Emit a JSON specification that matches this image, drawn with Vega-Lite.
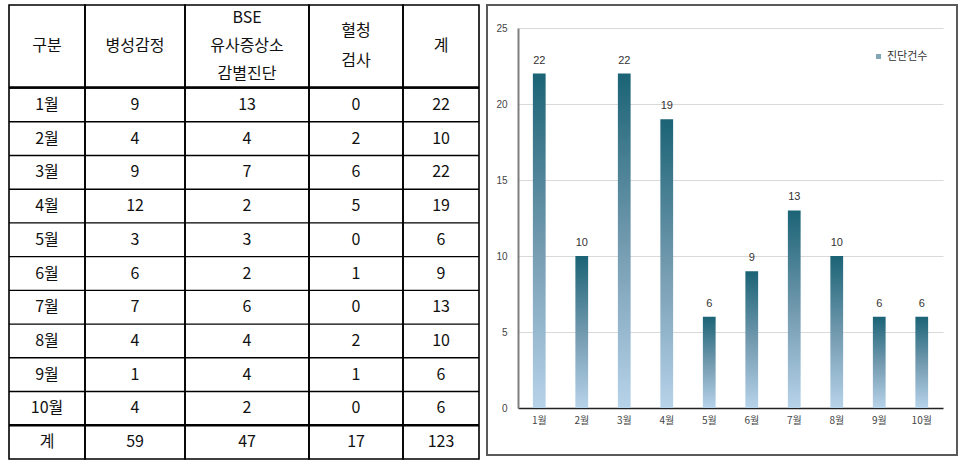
{
  "$schema": "https://vega.github.io/schema/vega-lite/v6.json",
  "padding": {"left": 7, "top": 4, "right": 0, "bottom": 0},
  "background": "white",
  "datasets": {
    "rows": [
      {"month": "1월", "a": 9, "b": 13, "c": 0, "total": 22},
      {"month": "2월", "a": 4, "b": 4, "c": 2, "total": 10},
      {"month": "3월", "a": 9, "b": 7, "c": 6, "total": 22},
      {"month": "4월", "a": 12, "b": 2, "c": 5, "total": 19},
      {"month": "5월", "a": 3, "b": 3, "c": 0, "total": 6},
      {"month": "6월", "a": 6, "b": 2, "c": 1, "total": 9},
      {"month": "7월", "a": 7, "b": 6, "c": 0, "total": 13},
      {"month": "8월", "a": 4, "b": 4, "c": 2, "total": 10},
      {"month": "9월", "a": 1, "b": 4, "c": 1, "total": 6},
      {"month": "10월", "a": 4, "b": 2, "c": 0, "total": 6},
      {"month": "계", "a": 59, "b": 47, "c": 17, "total": 123}
    ]
  },
  "spacing": 5,
  "hconcat": [
    {
      "spacing": -2,
      "vconcat": [
        {
          "spacing": 0,
          "bounds": "flush",
          "hconcat": [
            {"width": 76, "height": 82, "view": {"stroke": "#000", "strokeWidth": 1.6}, "data": {"values": [{"label": "구분"}]},
             "mark": {"type": "text", "font": "Noto Sans CJK KR", "fontSize": 16, "color": "#111", "lineBreak": "\n", "lineHeight": 28},
             "encoding": {"text": {"field": "label", "type": "nominal"}}},
            {"width": 100, "height": 82, "view": {"stroke": "#000", "strokeWidth": 1.6}, "data": {"values": [{"label": "병성감정"}]},
             "mark": {"type": "text", "font": "Noto Sans CJK KR", "fontSize": 16, "color": "#111", "lineBreak": "\n", "lineHeight": 28},
             "encoding": {"text": {"field": "label", "type": "nominal"}}},
            {"width": 124, "height": 82, "view": {"stroke": "#000", "strokeWidth": 1.6}, "data": {"values": [{"label": "BSE\n유사증상소\n감별진단"}]},
             "mark": {"type": "text", "font": "Noto Sans CJK KR", "fontSize": 16, "color": "#111", "lineBreak": "\n", "lineHeight": 28, "dy": -28},
             "encoding": {"text": {"field": "label", "type": "nominal"}}},
            {"width": 94, "height": 82, "view": {"stroke": "#000", "strokeWidth": 1.6}, "data": {"values": [{"label": "혈청\n검사"}]},
             "mark": {"type": "text", "font": "Noto Sans CJK KR", "fontSize": 16, "color": "#111", "lineBreak": "\n", "lineHeight": 30, "dy": -15},
             "encoding": {"text": {"field": "label", "type": "nominal"}}},
            {"width": 76, "height": 82, "view": {"stroke": "#000", "strokeWidth": 1.6}, "data": {"values": [{"label": "계"}]},
             "mark": {"type": "text", "font": "Noto Sans CJK KR", "fontSize": 16, "color": "#111", "lineBreak": "\n", "lineHeight": 28},
             "encoding": {"text": {"field": "label", "type": "nominal"}}}
          ]
        },
        {
          "spacing": 0,
          "bounds": "flush",
          "hconcat": [
            {"width": 76, "height": 371, "view": {"stroke": "#000", "strokeWidth": 1.6}, "data": {"name": "rows"},
             "encoding": {"y": {"field": "month", "type": "nominal", "sort": null, "axis": null, "scale": {"paddingInner": 0, "paddingOuter": 0}}},
             "layer": [
               {"mark": {"type": "rule", "color": "#000"}, "encoding": {"y": {"field": "month", "type": "nominal", "sort": null, "bandPosition": 0, "axis": null}, "strokeWidth": {"condition": {"test": "datum.month === '계'", "value": 2.4}, "value": 1.4}}},
               {"mark": {"type": "text", "font": "Noto Sans CJK KR", "fontSize": 16, "color": "#111"}, "encoding": {"text": {"field": "month", "type": "nominal"}}}
             ]},
            {"width": 100, "height": 371, "view": {"stroke": "#000", "strokeWidth": 1.6}, "data": {"name": "rows"},
             "encoding": {"y": {"field": "month", "type": "nominal", "sort": null, "axis": null, "scale": {"paddingInner": 0, "paddingOuter": 0}}},
             "layer": [
               {"mark": {"type": "rule", "color": "#000"}, "encoding": {"y": {"field": "month", "type": "nominal", "sort": null, "bandPosition": 0, "axis": null}, "strokeWidth": {"condition": {"test": "datum.month === '계'", "value": 2.4}, "value": 1.4}}},
               {"mark": {"type": "text", "font": "Noto Sans CJK KR", "fontSize": 16, "color": "#111"}, "encoding": {"text": {"field": "a", "type": "quantitative"}}}
             ]},
            {"width": 124, "height": 371, "view": {"stroke": "#000", "strokeWidth": 1.6}, "data": {"name": "rows"},
             "encoding": {"y": {"field": "month", "type": "nominal", "sort": null, "axis": null, "scale": {"paddingInner": 0, "paddingOuter": 0}}},
             "layer": [
               {"mark": {"type": "rule", "color": "#000"}, "encoding": {"y": {"field": "month", "type": "nominal", "sort": null, "bandPosition": 0, "axis": null}, "strokeWidth": {"condition": {"test": "datum.month === '계'", "value": 2.4}, "value": 1.4}}},
               {"mark": {"type": "text", "font": "Noto Sans CJK KR", "fontSize": 16, "color": "#111"}, "encoding": {"text": {"field": "b", "type": "quantitative"}}}
             ]},
            {"width": 94, "height": 371, "view": {"stroke": "#000", "strokeWidth": 1.6}, "data": {"name": "rows"},
             "encoding": {"y": {"field": "month", "type": "nominal", "sort": null, "axis": null, "scale": {"paddingInner": 0, "paddingOuter": 0}}},
             "layer": [
               {"mark": {"type": "rule", "color": "#000"}, "encoding": {"y": {"field": "month", "type": "nominal", "sort": null, "bandPosition": 0, "axis": null}, "strokeWidth": {"condition": {"test": "datum.month === '계'", "value": 2.4}, "value": 1.4}}},
               {"mark": {"type": "text", "font": "Noto Sans CJK KR", "fontSize": 16, "color": "#111"}, "encoding": {"text": {"field": "c", "type": "quantitative"}}}
             ]},
            {"width": 76, "height": 371, "view": {"stroke": "#000", "strokeWidth": 1.6}, "data": {"name": "rows"},
             "encoding": {"y": {"field": "month", "type": "nominal", "sort": null, "axis": null, "scale": {"paddingInner": 0, "paddingOuter": 0}}},
             "layer": [
               {"mark": {"type": "rule", "color": "#000"}, "encoding": {"y": {"field": "month", "type": "nominal", "sort": null, "bandPosition": 0, "axis": null}, "strokeWidth": {"condition": {"test": "datum.month === '계'", "value": 2.4}, "value": 1.4}}},
               {"mark": {"type": "text", "font": "Noto Sans CJK KR", "fontSize": 16, "color": "#111"}, "encoding": {"text": {"field": "total", "type": "quantitative"}}}
             ]}
          ]
        }
      ]
    },
    {
      "width": 470,
      "height": 450,
      "view": {"stroke": "#5a5a5a", "strokeWidth": 2},
      "data": {"name": "rows"},
      "transform": [{"filter": "datum.month !== '계'"}],
      "encoding": {
        "x": {"field": "month", "type": "nominal", "sort": null,
              "scale": {"range": [31, 456], "paddingInner": 0.7, "paddingOuter": 0.35},
              "axis": {"title": null, "offset": -47, "labelAngle": 0, "ticks": false, "labelPadding": 7, "labelFontSize": 10, "labelColor": "#444", "labelFont": "Noto Sans CJK KR", "domainColor": "#222", "domainWidth": 1.5, "grid": false}},
        "y": {"field": "total", "type": "quantitative",
              "scale": {"domain": [0, 25], "range": [403, 23], "nice": false},
              "axis": {"title": null, "offset": -31, "values": [0, 5, 10, 15, 20, 25], "ticks": false, "labelPadding": 11, "labelFontSize": 10, "labelColor": "#444", "labelFont": "Liberation Sans", "domainColor": "#7f7f7f", "domainWidth": 2, "grid": true, "gridColor": "#d9d9d9", "gridWidth": 1}}
      },
      "layer": [
        {
          "mark": {"type": "bar", "fill": {"gradient": "linear", "x1": 0, "y1": 0, "x2": 0, "y2": 1, "stops": [{"offset": 0, "color": "#1b6376"}, {"offset": 0.5, "color": "#7199ae"}, {"offset": 1, "color": "#b7d3ea"}]}}
        },
        {
          "transform": [{"filter": "false"}],
          "mark": {"type": "square"},
          "encoding": {
            "fill": {"datum": "진단건수", "type": "nominal",
                     "scale": {"range": ["#4f8096"]},
                     "legend": {"title": null, "orient": "none", "legendX": 864, "legendY": 46, "symbolType": "square", "symbolSize": 25, "labelFontSize": 11, "labelFont": "Noto Sans CJK KR", "labelColor": "#333", "labelOffset": 3}}
          }
        },
        {
          "mark": {"type": "text", "dy": -13, "fontSize": 11, "font": "Liberation Sans", "color": "#333"},
          "encoding": {"text": {"field": "total", "type": "quantitative"}}
        }
      ]
    }
  ]
}
